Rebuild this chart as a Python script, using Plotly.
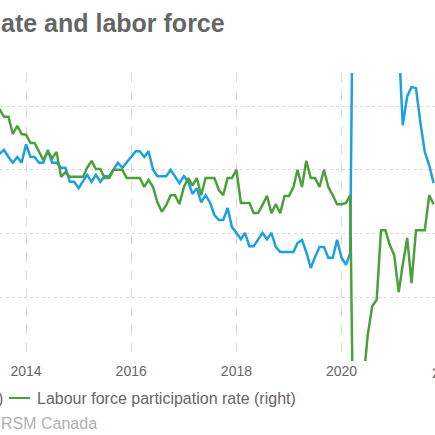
import pandas as pd
import plotly.graph_objects as go

# monthly, starting July 2013
months = pd.date_range("2013-07-01", periods=100, freq="MS")

unemployment_rate = [
    7.25, 7.31, 7.20, 7.11, 7.20, 7.11,
    7.40, 7.20, 7.20, 7.11, 7.11, 7.31, 7.11, 7.11, 7.03, 7.03, 6.81, 6.81,
    6.71, 6.81, 6.92, 6.81, 6.92, 6.81, 6.90, 6.90, 7.01, 7.11, 7.03, 7.11,
    7.20, 7.29, 7.29, 7.20, 7.29, 7.00, 6.90, 6.90, 6.90, 7.00, 6.90, 6.79,
    6.90, 6.81, 6.62, 6.71, 6.49, 6.60, 6.49, 6.29, 6.21, 6.21, 6.40, 6.10,
    6.01, 5.91, 6.01, 5.80, 5.80, 5.90, 6.01, 5.91, 6.01, 5.79, 5.71, 5.71,
    5.71, 5.71, 5.85, 5.90, 5.71, 5.46, 5.63, 5.79, 5.79, 5.62, 5.62, 5.90,
    5.62, 5.51, 5.69, 13.0, 13.7, 12.3, 10.9, 10.2, 9.3, 9.0, 8.9, 9.0,
    9.4, 9.0, 7.70, 8.15, 8.30, 8.28, 7.75, 7.28, 7.07, 6.79,
]

participation_rate = [
    66.95, 66.83, 66.83, 66.56, 66.69, 66.56,
    66.55, 66.42, 66.42, 66.28, 66.15, 66.28, 66.18, 66.28, 65.89, 65.96, 65.89, 65.89,
    65.89, 65.89, 66.03, 66.14, 66.01, 66.01, 65.87, 65.87, 66.00, 66.00, 66.00, 65.87,
    65.87, 65.87, 65.87, 65.73, 65.84, 65.73, 65.49, 65.34, 65.45, 65.60, 65.60, 65.46,
    65.73, 65.87, 65.75, 65.87, 65.60, 65.87, 65.87, 65.87, 65.68, 65.60, 65.87, 65.87,
    66.00, 65.48, 65.48, 65.48, 65.32, 65.32, 65.45, 65.59, 65.32, 65.46, 65.32, 65.59,
    65.59, 65.73, 66.00, 65.73, 66.14, 65.87, 65.87, 65.73, 66.00, 65.73, 65.60, 65.46,
    65.46, 65.48, 65.60, 60.0, 61.5, 62.70, 63.41, 63.86, 63.96, 65.05, 65.05, 64.82,
    64.66, 64.08, 64.51, 64.93, 64.22, 65.05, 65.05, 65.05, 65.60, 65.46,
]

BLUE = "#1ea0e0"
GREEN = "#4ca03c"
FONT = "Liberation Sans, Arial, sans-serif"

fig = go.Figure()

fig.add_trace(go.Scatter(
    x=months, y=unemployment_rate,
    mode="lines",
    line=dict(color=BLUE, width=2.5),
    name="Unemployment rate (left)",
    yaxis="y",
))

fig.add_trace(go.Scatter(
    x=months, y=participation_rate,
    mode="lines",
    line=dict(color=GREEN, width=2.5),
    name="Labour force participation rate (right)",
    yaxis="y2",
))

# title (cropped on the left)
fig.add_annotation(
    text="<b>ate and labor force</b>",
    xref="paper", yref="paper", x=-1 / 435, y=(361 - 23) / 288,
    xanchor="left", yanchor="middle", showarrow=False,
    font=dict(family=FONT, size=25, color="#666666"),
)

# legend row (drawn by hand)
fig.add_annotation(
    text=")",
    xref="paper", yref="paper", x=5 / 435, y=(361 - 398) / 288,
    xanchor="right", yanchor="middle", showarrow=False,
    font=dict(family=FONT, size=16, color="#666666"),
)
fig.add_shape(
    type="line", xref="paper", yref="paper",
    x0=9 / 435, x1=30 / 435, y0=(361 - 398) / 288, y1=(361 - 398) / 288,
    line=dict(color=GREEN, width=2),
)
fig.add_annotation(
    text="Labour force participation rate (right)",
    xref="paper", yref="paper", x=35 / 435, y=(361 - 398) / 288,
    xanchor="left", yanchor="middle", showarrow=False,
    font=dict(family=FONT, size=16, color="#666666"),
)

# source line
fig.add_annotation(
    text="RSM Canada",
    xref="paper", yref="paper", x=-1 / 435, y=(361 - 423) / 288,
    xanchor="left", yanchor="middle", showarrow=False,
    font=dict(family=FONT, size=16, color="#b0b0b0"),
)

# next tick label, cut by the right edge
fig.add_annotation(
    text="2022",
    xref="paper", yref="paper", x=447 / 435, y=(361 - 373) / 288,
    xanchor="center", yanchor="middle", showarrow=False,
    font=dict(family=FONT, size=14, color="#666666"),
)

fig.update_layout(
    width=435, height=435,
    margin=dict(l=0, r=0, t=73, b=74),
    paper_bgcolor="white",
    plot_bgcolor="white",
    showlegend=False,
    font=dict(family=FONT, color="#666666"),
    xaxis=dict(
        range=["2013-07-04", "2021-10-11"],
        tick0="2014-01-01", dtick="M24", tickformat="%Y",
        showgrid=True, gridcolor="#d8d8d8", griddash="dash", gridwidth=1,
        zeroline=False, showline=False, ticks="",
        tickfont=dict(family=FONT, size=14, color="#666666"),
    ),
    yaxis=dict(
        range=[4, 4 + 288 / 63.75],
        tick0=4, dtick=1,
        showgrid=True, gridcolor="#d8d8d8", griddash="dot", gridwidth=1,
        zeroline=False, showline=False, showticklabels=False, ticks="",
    ),
    yaxis2=dict(
        range=[63, 63 + 288 / 63.75],
        overlaying="y", side="right",
        showgrid=False, zeroline=False, showline=False,
        showticklabels=False, ticks="",
    ),
)

# page body has a default 8px margin; drop it so the figure sits at the corner
fig.write_html(
    "out.html",
    config={"displayModeBar": False},
    post_script="document.body.style.margin='0';",
)
